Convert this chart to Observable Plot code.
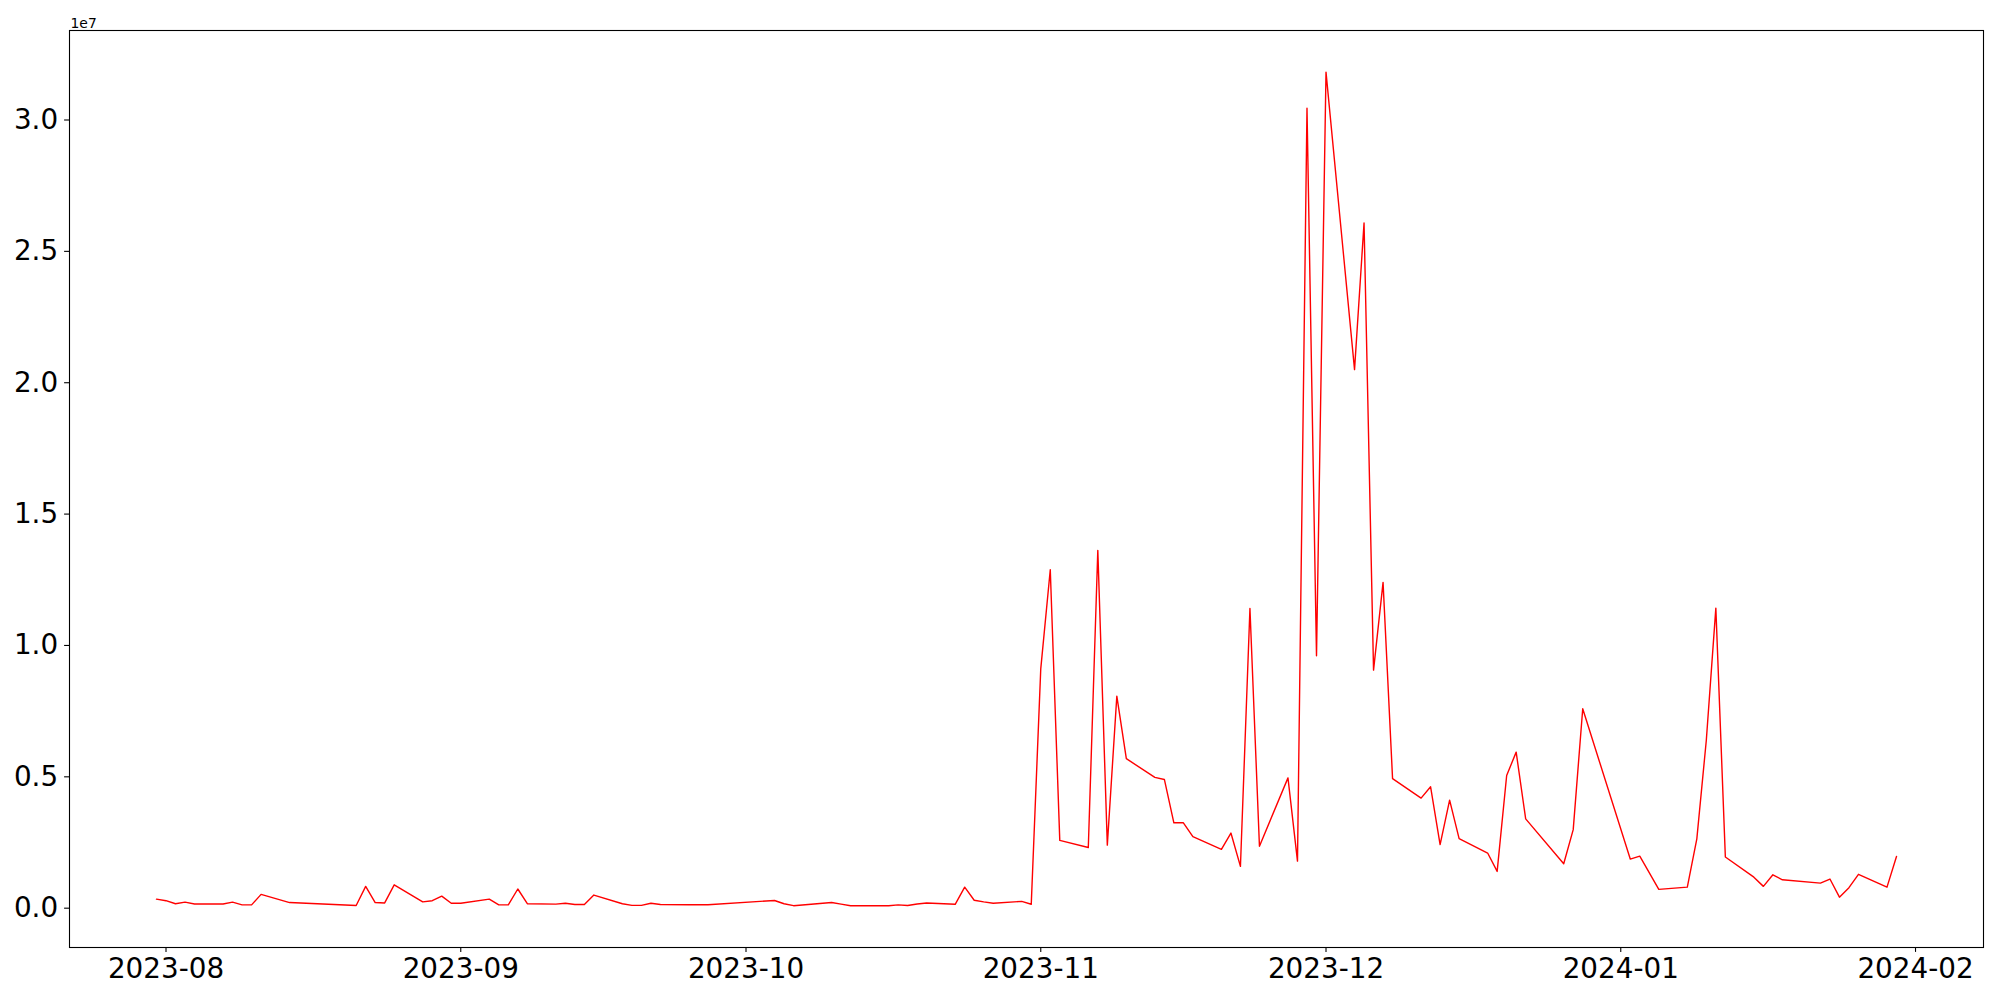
<!DOCTYPE html>
<html>
<head>
<meta charset="utf-8">
<script src="https://cdn.jsdelivr.net/npm/d3@7"></script>
<script src="https://cdn.jsdelivr.net/npm/@observablehq/plot@0.6"></script>
<style>
  html, body { margin: 0; padding: 0; background: #ffffff; }
  #chart { width: 2000px; height: 1000px; }
</style>
</head>
<body>
<div id="chart"></div>
<script>
// ---- data ----
const dates = [
  "2023-07-31","2023-08-01","2023-08-02","2023-08-03","2023-08-04","2023-08-07","2023-08-08","2023-08-09","2023-08-10","2023-08-11",
  "2023-08-14","2023-08-21","2023-08-22","2023-08-23","2023-08-24","2023-08-25","2023-08-28","2023-08-29","2023-08-30","2023-08-31",
  "2023-09-01","2023-09-04","2023-09-05","2023-09-06","2023-09-07","2023-09-08","2023-09-11","2023-09-12","2023-09-13","2023-09-14",
  "2023-09-15","2023-09-18","2023-09-19","2023-09-20","2023-09-21","2023-09-22","2023-09-25","2023-09-27","2023-10-04","2023-10-05",
  "2023-10-06","2023-10-10","2023-10-11","2023-10-12","2023-10-13","2023-10-16","2023-10-17","2023-10-18","2023-10-19","2023-10-20",
  "2023-10-23","2023-10-24","2023-10-25","2023-10-26","2023-10-27","2023-10-30","2023-10-31","2023-11-01","2023-11-02","2023-11-03",
  "2023-11-06","2023-11-07","2023-11-08","2023-11-09","2023-11-10","2023-11-13","2023-11-14","2023-11-15","2023-11-16","2023-11-17",
  "2023-11-20","2023-11-21","2023-11-22","2023-11-23","2023-11-24","2023-11-27","2023-11-28","2023-11-29","2023-11-30","2023-12-01",
  "2023-12-04","2023-12-05","2023-12-06","2023-12-07","2023-12-08","2023-12-11","2023-12-12","2023-12-13","2023-12-14","2023-12-15",
  "2023-12-18","2023-12-19","2023-12-20","2023-12-21","2023-12-22","2023-12-26","2023-12-27","2023-12-28","2024-01-02","2024-01-03",
  "2024-01-05","2024-01-08","2024-01-09","2024-01-10","2024-01-11","2024-01-12","2024-01-15","2024-01-16","2024-01-17","2024-01-18",
  "2024-01-22","2024-01-23","2024-01-24","2024-01-25","2024-01-26","2024-01-29","2024-01-30"
];
const values = [
  346000, 285000, 170000, 230000, 157000, 157000, 230000, 127000, 127000, 525000,
  214000, 100000, 830000, 214000, 200000, 890000, 240000, 285000, 460000, 188000,
  188000, 346000, 127000, 127000, 730000, 170000, 153000, 188000, 140000, 140000,
  500000, 170000, 107000, 107000, 188000, 140000, 130000, 130000, 293000, 170000,
  95000, 214000, 153000, 95000, 90000, 90000, 127000, 100000, 157000, 195000,
  148000, 800000, 303000, 240000, 188000, 260000, 150000, 9110000, 12880000, 2580000,
  2310000, 13620000, 2400000, 8070000, 5690000, 4980000, 4900000, 3250000, 3250000, 2720000,
  2240000, 2860000, 1590000, 11410000, 2360000, 4960000, 1790000, 30450000, 9610000, 31820000,
  20500000, 26080000, 9060000, 12400000, 4930000, 4190000, 4620000, 2420000, 4110000, 2650000,
  2100000, 1400000, 5050000, 5940000, 3400000, 1690000, 2990000, 7590000, 1870000, 1980000,
  715000, 800000, 2640000, 6400000, 11420000, 1950000, 1180000, 830000, 1270000, 1080000,
  955000, 1110000, 420000, 780000, 1290000, 800000, 1970000
];
const xTickDates = ["2023-08-01","2023-09-01","2023-10-01","2023-11-01","2023-12-01","2024-01-01","2024-02-01"];
const yTickValues = [0, 5000000, 10000000, 15000000, 20000000, 25000000, 30000000];
const offsetLabel = "1e7";

// ---- build table ----
const data = dates.map((d, i) => ({ date: new Date(d + "T00:00:00Z"), value: values[i] }));
const xTicks = xTickDates.map(d => new Date(d + "T00:00:00Z"));

// matplotlib-like 5% margins
const [x0, x1] = d3.extent(data, d => +d.date);
const xPad = (x1 - x0) * 0.05;
const [y0, y1] = d3.extent(data, d => d.value);
const yPad = (y1 - y0) * 0.05;

const fontPx = 27.8;

const chart = Plot.plot({
  width: 2000,
  height: 1000,
  marginLeft: 69,
  marginRight: 17,
  marginTop: 30,
  marginBottom: 53,
  style: { fontFamily: "DejaVu Sans", color: "black", background: "white" },
  x: { type: "utc", domain: [new Date(x0 - xPad), new Date(x1 + xPad)] },
  y: { domain: [y0 - yPad, y1 + yPad] },
  marks: [
    Plot.axisX({
      ticks: xTicks,
      tickFormat: d3.utcFormat("%Y-%m"),
      tickSize: 4.9,
      tickPadding: 6,
      fontSize: fontPx,
      stroke: "black",
      strokeWidth: 1.1,
      label: null
    }),
    Plot.axisY({
      ticks: yTickValues,
      tickFormat: d => (d / 1e7).toFixed(1),
      tickSize: 4.9,
      tickPadding: 6.5,
      fontSize: fontPx,
      stroke: "black",
      strokeWidth: 1.1,
      label: null
    }),
    Plot.line(data, { x: "date", y: "value", stroke: "red", strokeWidth: 1.4 }),
    Plot.frame({ stroke: "black", strokeWidth: 1.1 }),
    Plot.text([offsetLabel], {
      frameAnchor: "top-left",
      text: d => d,
      textAnchor: "start",
      lineAnchor: "bottom",
      dx: 1,
      dy: -3,
      fontSize: 13.9,
      fill: "black"
    })
  ]
});

document.getElementById("chart").appendChild(chart);
</script>
</body>
</html>
